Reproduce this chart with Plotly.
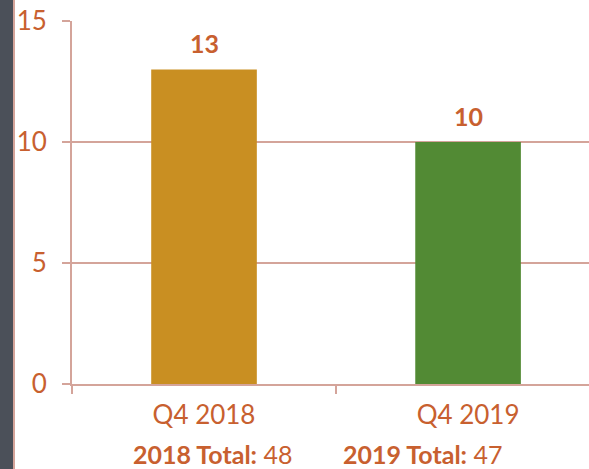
import plotly.graph_objects as go

categories = ['Q4 2018', 'Q4 2019']
values = [13, 10]
bar_colors = ['#C98F22', '#528A34']
years = ['2018', '2019']
totals = [48, 47]

text_color = '#C8602F'
line_color = '#D4A49A'
font_family = 'Lato, "Open Sans", sans-serif'

fig = go.Figure()
fig.add_trace(go.Bar(
	x=categories, y=values, marker_color=bar_colors, marker_line_width=0,
	hoverinfo='skip',
))

# value labels above the bars
for cat, v in zip(categories, values):
	fig.add_annotation(
		x=cat, y=v, yanchor='bottom', yshift=9, showarrow=False,
		text=f'<b>{v}</b>', font=dict(size=25, color=text_color, family=font_family),
	)

# totals line under the category labels
for i, (yr, tot) in enumerate(zip(years, totals)):
	fig.add_annotation(
		x=i, y=0, xref='x', yref='y', yshift=-70, xshift=8 if i == 0 else -46,
		text=f'<b>{yr} Total:</b> {tot}', showarrow=False,
		font=dict(size=25, color=text_color, family=font_family),
	)

# dark strip on the left edge
fig.add_shape(type='rect', xref='paper', yref='paper', x0=-72 / 517, x1=-59 / 517, y0=-1, y1=2,
	fillcolor='#4B5059', line_width=0, layer='below')
fig.add_shape(type='line', xref='paper', yref='paper', x0=-58 / 517, x1=-58 / 517, y0=-1, y1=2,
	line=dict(color=line_color, width=2))

fig.update_layout(
	width=589, height=469,
	margin=dict(l=72, r=0, t=21, b=85),
	paper_bgcolor='white', plot_bgcolor='white',
	showlegend=False, bargap=0.6,
	font=dict(family=font_family, color=text_color),
	xaxis=dict(
		range=[-0.5, 1.458], showline=True, linecolor=line_color, linewidth=2,
		ticks='outside', tickson='boundaries', ticklen=8, tickcolor=line_color, tickwidth=2,
		tickfont=dict(size=26, color=text_color), showgrid=False, ticklabelstandoff=7,
	),
	yaxis=dict(
		range=[0, 15], dtick=5, showline=True, linecolor=line_color, linewidth=2,
		ticks='outside', ticklen=8, tickcolor=line_color, tickwidth=2,
		gridcolor=line_color, gridwidth=2, zeroline=False,
		tickfont=dict(size=26, color=text_color), ticklabelstandoff=10,
	),
)

fig.write_html('out.html', config={'displayModeBar': False},
	post_script="document.body.style.margin='0';")
